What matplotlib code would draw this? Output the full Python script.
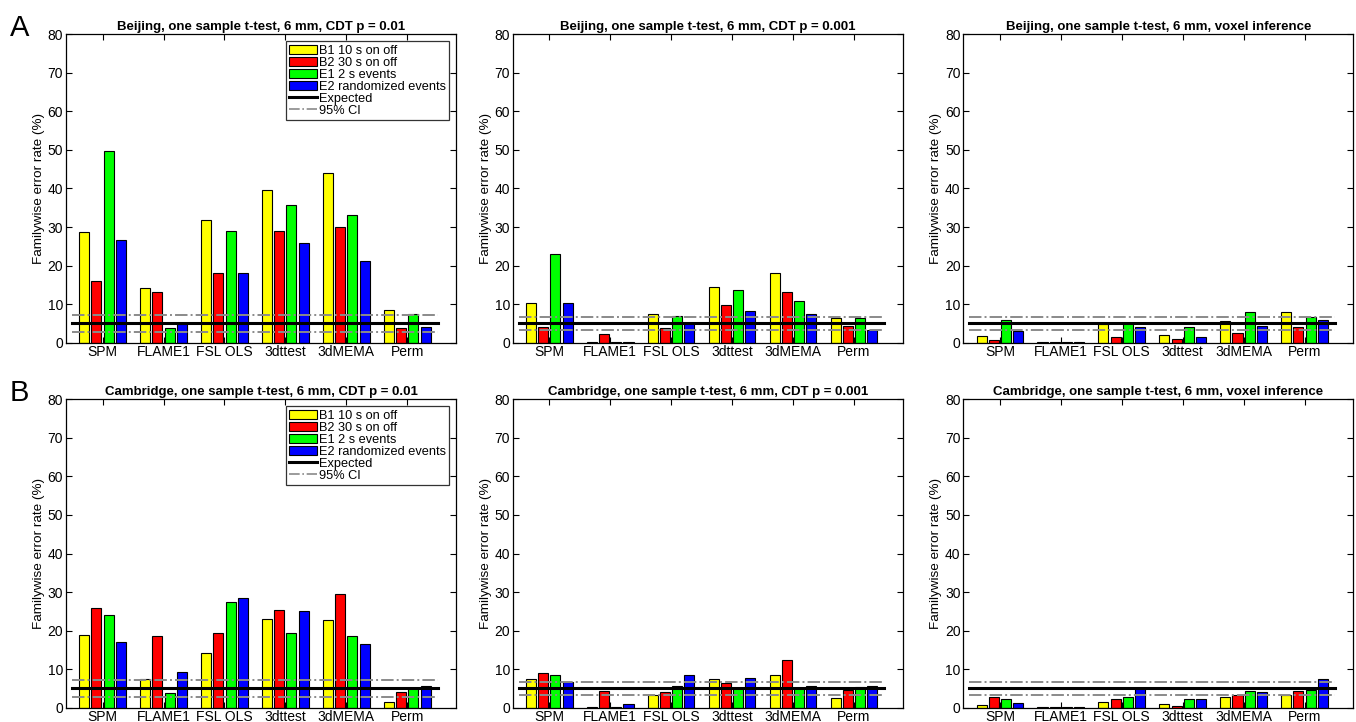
import matplotlib.pyplot as plt
import numpy as np
from matplotlib.patches import Patch
from matplotlib.lines import Line2D

plt.rcParams['font.family'] = ['Liberation Sans', 'DejaVu Sans']

methods = ['SPM', 'FLAME1', 'FSL OLS', '3dttest', '3dMEMA', 'Perm']
designs = ['B1 10 s on off', 'B2 30 s on off', 'E1 2 s events', 'E2 randomized events']
design_colors = ['#ffff00', '#ff0000', '#00ff00', '#0000ff']

titles = [
    'Beijing, one sample t-test, 6 mm, CDT p = 0.01',
    'Beijing, one sample t-test, 6 mm, CDT p = 0.001',
    'Beijing, one sample t-test, 6 mm, voxel inference',
    'Cambridge, one sample t-test, 6 mm, CDT p = 0.01',
    'Cambridge, one sample t-test, 6 mm, CDT p = 0.001',
    'Cambridge, one sample t-test, 6 mm, voxel inference',
]

# rows = methods, columns = designs (B1, B2, E1, E2)
beijing_cdt01 = [
    [28.7, 16.1, 49.6, 26.7],
    [14.3, 13.2, 3.8, 4.9],
    [31.7, 18.2, 29.0, 18.1],
    [39.6, 29.1, 35.7, 25.9],
    [44.1, 30.1, 33.0, 21.2],
    [8.4, 3.7, 7.4, 4.1],
]
beijing_cdt001 = [
    [10.3, 4.0, 22.9, 10.2],
    [0.2, 2.3, 0.1, 0.1],
    [7.4, 3.7, 6.9, 5.0],
    [14.5, 9.8, 13.7, 8.2],
    [18.0, 13.1, 10.9, 7.5],
    [6.3, 4.3, 6.3, 3.2],
]
beijing_voxel = [
    [1.8, 0.8, 6.0, 3.1],
    [0.1, 0.1, 0.1, 0.1],
    [4.9, 1.6, 5.0, 4.0],
    [1.9, 1.0, 4.2, 1.6],
    [5.6, 2.6, 7.9, 4.4],
    [7.9, 4.0, 6.6, 5.9],
]
cambridge_cdt01 = [
    [18.9, 25.8, 24.0, 17.1],
    [7.4, 18.5, 3.7, 9.2],
    [14.1, 19.3, 27.5, 28.5],
    [23.1, 25.4, 19.4, 25.1],
    [22.7, 29.4, 18.5, 16.5],
    [1.6, 4.0, 5.2, 5.7],
]
cambridge_cdt001 = [
    [7.4, 9.1, 8.5, 6.7],
    [0.1, 4.4, 0.1, 1.0],
    [3.3, 4.1, 5.7, 8.5],
    [7.4, 6.5, 5.2, 7.8],
    [8.5, 12.4, 5.0, 5.6],
    [2.4, 4.7, 5.4, 5.6],
]
cambridge_voxel = [
    [0.7, 2.7, 2.2, 1.3],
    [0.1, 0.1, 0.1, 0.1],
    [1.4, 2.3, 2.7, 5.0],
    [0.9, 0.4, 2.2, 2.2],
    [2.7, 3.4, 4.3, 4.1],
    [3.4, 4.3, 4.6, 7.5],
]
panels = [beijing_cdt01, beijing_cdt001, beijing_voxel,
          cambridge_cdt01, cambridge_cdt001, cambridge_voxel]

expected = 5.0
ci_lower = [2.8, 3.3, 3.4, 2.8, 3.3, 3.4]
ci_upper = [7.2, 6.7, 6.6, 7.2, 6.7, 6.6]

fig = plt.figure(figsize=(13.56, 7.22), dpi=100)
W, H = 1356, 722
lefts = [66, 512.7, 963.3]
tops = [34.3, 399.3]
aw, ah = 390, 308.4

x = np.arange(1, len(methods) + 1)
offsets = [-0.3, -0.1, 0.1, 0.3]
bar_w = 0.165
ci_color = '#8a8a8a'

for i, vals in enumerate(panels):
    r, c = divmod(i, 3)
    ax = fig.add_axes([lefts[c] / W, 1 - (tops[r] + ah) / H, aw / W, ah / H])
    vals = np.array(vals)
    for j in range(len(designs)):
        ax.bar(x + offsets[j], vals[:, j], width=bar_w, color=design_colors[j],
               edgecolor='black', linewidth=0.8, label=designs[j], zorder=2)
    ax.plot([0.5, 6.5], [expected, expected], color='black', lw=2.2, zorder=3)
    ax.plot([0.5, 6.5], [ci_upper[i], ci_upper[i]], color=ci_color, lw=1.4, ls='-.', zorder=3)
    ax.plot([0.5, 6.5], [ci_lower[i], ci_lower[i]], color=ci_color, lw=1.4, ls='-.', zorder=3)
    ax.set_xlim(0.4, 6.8)
    ax.set_ylim(0, 80)
    ax.set_yticks(range(0, 81, 10))
    ax.set_xticks(x)
    ax.set_xticklabels(methods)
    ax.tick_params(direction='in', top=True, right=True, labelsize=10, length=4, width=0.8, pad=2)
    for s in ax.spines.values():
        s.set_linewidth(0.9)
    ax.set_ylabel('Familywise error rate (%)', fontsize=9.7, labelpad=2)
    ax.set_title(titles[i], fontsize=9.5, fontweight='bold', pad=3)
    if c == 0:
        handles = [Patch(facecolor=design_colors[j], edgecolor='black', lw=0.8) for j in range(4)]
        handles += [Line2D([], [], color='black', lw=2.2), Line2D([], [], color=ci_color, lw=1.2, ls='-.')]
        leg = ax.legend(handles, designs + ['Expected', '95% CI'], loc='upper right',
                        fontsize=9.2, frameon=True, fancybox=False, borderpad=0.25,
                        labelspacing=0.0, handlelength=2.2, handletextpad=0.15,
                        borderaxespad=0.55, handleheight=0.7)
        leg.get_frame().set_edgecolor('black')
        leg.get_frame().set_linewidth(0.9)

fig.text(10 / W, 1 - 36 / H, 'A', fontsize=21)
fig.text(10 / W, 1 - 401 / H, 'B', fontsize=21)

fig.savefig('out.png', dpi=100)
